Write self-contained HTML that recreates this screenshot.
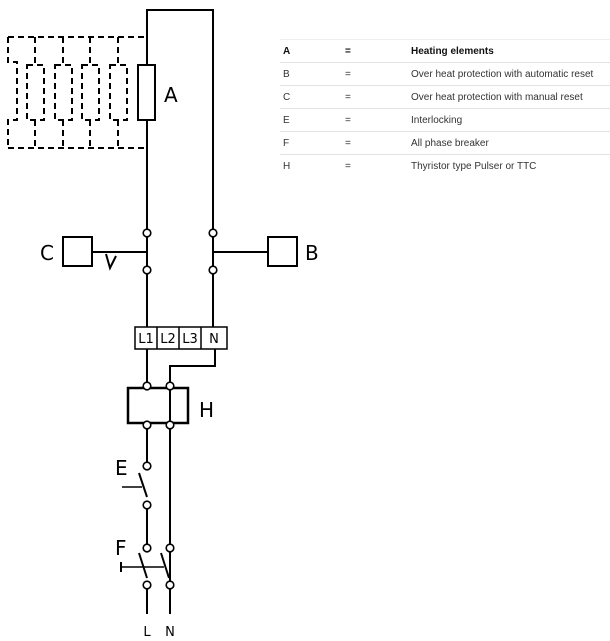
<!DOCTYPE html>
<html><head><style>
body{margin:0;background:#fff;width:610px;height:641px;overflow:hidden;font-family:"Liberation Sans",sans-serif}
.t{position:absolute;left:280px;width:330px;top:39px;border-top:1px solid #eee}
.r{height:22px;border-bottom:1px solid #e3e3e3;font-size:10px;color:#333;position:relative}
.r span{position:absolute;top:6px}
</style></head><body>
<svg width="610" height="641" style="position:absolute;left:0;top:0" font-family="DejaVu Sans, Liberation Sans, sans-serif">
<g stroke="#000" stroke-width="2" fill="none">
<polyline points="147,148 147,10 213,10 213,233"/>
<rect x="138" y="65" width="17" height="55" fill="#fff"/>
<g stroke-dasharray="6,4">
<line x1="8" y1="37" x2="147" y2="37"/><line x1="8" y1="148" x2="147" y2="148"/>
<polyline points="8,37 8,62 17,62 17,120 8,120 8,148"/>
<line x1="35" y1="37" x2="35" y2="65"/><rect x="27" y="65" width="17" height="55"/><line x1="35" y1="120" x2="35" y2="148"/>
<line x1="63" y1="37" x2="63" y2="65"/><rect x="55" y="65" width="17" height="55"/><line x1="63" y1="120" x2="63" y2="148"/>
<line x1="90" y1="37" x2="90" y2="65"/><rect x="82" y="65" width="17" height="55"/><line x1="90" y1="120" x2="90" y2="148"/>
<line x1="118" y1="37" x2="118" y2="65"/><rect x="110" y="65" width="17" height="55"/><line x1="118" y1="120" x2="118" y2="148"/>
</g>
<line x1="147" y1="148" x2="147" y2="229"/>
<line x1="147" y1="237" x2="147" y2="266"/><line x1="213" y1="237" x2="213" y2="266"/>
<rect x="63" y="237" width="29" height="29"/><line x1="92" y1="252" x2="147" y2="252"/>
<polyline points="106,254 110,268 116,256"/>
<rect x="268" y="237" width="29" height="29"/><line x1="213" y1="252" x2="268" y2="252"/>
<line x1="147" y1="274" x2="147" y2="327"/><line x1="213" y1="274" x2="213" y2="327"/>
<rect x="135" y="327" width="92" height="22" stroke-width="1.5"/>
<line x1="157" y1="327" x2="157" y2="349" stroke-width="1.5"/><line x1="179" y1="327" x2="179" y2="349" stroke-width="1.5"/><line x1="201" y1="327" x2="201" y2="349" stroke-width="1.5"/>
<line x1="147" y1="349" x2="147" y2="382"/>
<polyline points="215,349 215,366 170,366 170,382"/>
<rect x="128" y="388" width="60" height="35" stroke-width="2.5"/>
<line x1="170" y1="390" x2="170" y2="421"/>
<line x1="147" y1="429" x2="147" y2="462"/><line x1="170" y1="429" x2="170" y2="614"/>
<line x1="139" y1="473" x2="147" y2="497"/><line x1="122" y1="487" x2="142" y2="487" stroke-width="1.5"/>
<line x1="147" y1="509" x2="147" y2="544"/>
<line x1="139" y1="553" x2="147" y2="578"/><line x1="161" y1="553" x2="169" y2="578"/>
<line x1="121" y1="567" x2="164" y2="567" stroke-width="1.5"/><line x1="121" y1="562" x2="121" y2="572"/>
<line x1="147" y1="589" x2="147" y2="614"/><line x1="170" y1="589" x2="170" y2="614"/>
<g fill="#fff" stroke-width="1.6">
<circle cx="147" cy="233" r="3.8"/><circle cx="213" cy="233" r="3.8"/><circle cx="147" cy="270" r="3.8"/><circle cx="213" cy="270" r="3.8"/>
<circle cx="147" cy="386" r="3.8"/><circle cx="170" cy="386" r="3.8"/><circle cx="147" cy="425" r="3.8"/><circle cx="170" cy="425" r="3.8"/>
<circle cx="147" cy="466" r="3.8"/><circle cx="147" cy="505" r="3.8"/>
<circle cx="147" cy="548" r="3.8"/><circle cx="170" cy="548" r="3.8"/><circle cx="147" cy="585" r="3.8"/><circle cx="170" cy="585" r="3.8"/>
</g></g>
<g font-size="20" fill="#000">
<text x="164" y="102">A</text><text x="40" y="260">C</text><text x="305" y="260">B</text>
<text x="199" y="417">H</text><text x="115" y="475">E</text><text x="115" y="555">F</text>
</g>
<g font-size="13" fill="#000" text-anchor="middle">
<text x="146" y="343">L1</text><text x="168" y="343">L2</text><text x="190" y="343">L3</text><text x="214" y="343">N</text>
<text x="147" y="636">L</text><text x="170" y="636">N</text>
</g>
</svg>
<div class="t">
<div class="r" style="font-weight:bold;color:#111"><span style="left:3px">A</span><span style="left:65px">=</span><span style="left:131px">Heating elements</span></div>
<div class="r"><span style="left:3px">B</span><span style="left:65px">=</span><span style="left:131px">Over heat protection with automatic reset</span></div>
<div class="r"><span style="left:3px">C</span><span style="left:65px">=</span><span style="left:131px">Over heat protection with manual reset</span></div>
<div class="r"><span style="left:3px">E</span><span style="left:65px">=</span><span style="left:131px">Interlocking</span></div>
<div class="r"><span style="left:3px">F</span><span style="left:65px">=</span><span style="left:131px">All phase breaker</span></div>
<div class="r" style="border-bottom:none"><span style="left:3px">H</span><span style="left:65px">=</span><span style="left:131px">Thyristor type Pulser or TTC</span></div>
</div>
</body></html>
